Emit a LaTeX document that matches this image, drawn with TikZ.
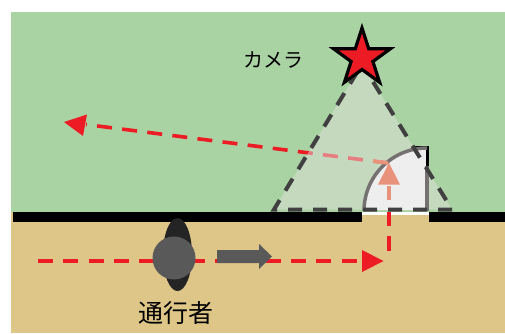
\documentclass[tikz,border=0pt]{standalone}
\usepackage{fontspec}
\newfontfamily\jpfont{Noto Sans CJK JP}
\definecolor{bggreen}{HTML}{A9D3A3}
\definecolor{bgtan}{HTML}{DEC588}
\definecolor{pathred}{HTML}{ED1C24}
\definecolor{salmon}{HTML}{E8927C}
\definecolor{viewfill}{HTML}{E2DFDC}
\definecolor{doorfill}{HTML}{EEEEEE}
\definecolor{doorline}{HTML}{767171}
\definecolor{viewline}{HTML}{404040}
\definecolor{persongray}{HTML}{595959}
\definecolor{persondark}{HTML}{242424}
\tikzset{
  redpath/.style={draw=pathred,line width=3.6pt,dash pattern=on 15pt off 10.3pt},
  viewedge/.style={draw=viewline,line width=4pt,dash pattern=on 14pt off 11pt,line join=miter},
  label/.style={font=\jpfont,text=black,inner sep=0pt},
}
\begin{document}
\begin{tikzpicture}[x=1pt,y=-1pt]
\useasboundingbox (0,0) rectangle (505,333);
\fill[white] (0,0) rectangle (505,333);
% ground areas
\fill[bggreen] (11,12) rectangle (505,212);
\fill[bgtan] (11,212) rectangle (505,333);
% walls
\fill[black] (13,211.5) rectangle (362,222);
\fill[black] (429,211.5) rectangle (505,222);
\fill[white] (362,211.5) rectangle (429,214.5);
% camera path
\coordinate (pstart) at (38,261);
\coordinate (pcorner) at (357,261);
\coordinate (pup) at (389,251);
\coordinate (pupend) at (389,212);
\coordinate (doorhit) at (388,163);
\coordinate (reflect) at (86,124.5);
\draw[redpath] (pstart) -- (pcorner);
\fill[pathred] (362,250) -- (383.5,261) -- (362,272) -- cycle;
\draw[redpath] (pup) -- (pupend);
\draw[redpath] (doorhit) -- (reflect);
\fill[pathred] (64,122) -- (87,114.5) -- (83,136) -- cycle;
% view cone fill
\coordinate (apex) at (362,64);
\coordinate (baseL) at (274,209.5);
\coordinate (baseR) at (452,209.5);
\fill[viewfill,fill opacity=.5] (apex) -- (baseL) -- (baseR) -- cycle;
% door
\fill[white] (415,147.5) -- (427,147.5) -- (427,170) -- cycle;
\fill[doorfill] (364,210) arc[start angle=180,end angle=270,radius=63] -- (427,210) -- cycle;
\draw[black,line width=3pt,miter limit=10] (414,147.5) -- (427,147.5) -- (427,166);
\draw[doorline,line width=3.5pt] (427,211) -- (427,166);
\draw[doorline,line width=3.5pt] (364,211) arc[start angle=180,end angle=270,radius=63];
% salmon arrow through door
\draw[salmon,line width=3.6pt] (389,200) -- (389,186);
\fill[salmon] (389,163) -- (400,184.5) -- (378,184.5) -- cycle;
\draw[salmon,line width=3.6pt] (388,163) -- (373,161.1);
% view cone edges
\draw[viewedge] (baseR) -- (baseL) -- (apex);
\draw[viewedge,dash phase=14pt] (baseR) -- (apex);
% camera star
\draw[fill=pathred,draw=black,line width=3.2pt,miter limit=10]
  (362,28) -- (368.7,48.7) -- (390.5,48.7) -- (372.9,61.5) -- (379.6,82.3)
  -- (362,69.5) -- (344.4,82.3) -- (351.1,61.5) -- (333.5,48.7) -- (355.3,48.7) -- cycle;
\node[label,font=\jpfont\fontsize{20}{20}\selectfont] (cameralabel) at (273,60) {カメラ};
% person
\fill[persondark] (177.5,254.5) ellipse[x radius=14.5,y radius=36.5];
\fill[persongray] (174,258) circle[radius=21.5];
% walking direction arrow
\fill[persongray] (217,250) -- (259,250) -- (259,244) -- (272,256.5) -- (259,269) -- (259,263) -- (217,263) -- cycle;
\node[label,font=\jpfont\fontsize{25}{25}\selectfont] (walkerlabel) at (176,313) {通行者};
\end{tikzpicture}
\end{document}
